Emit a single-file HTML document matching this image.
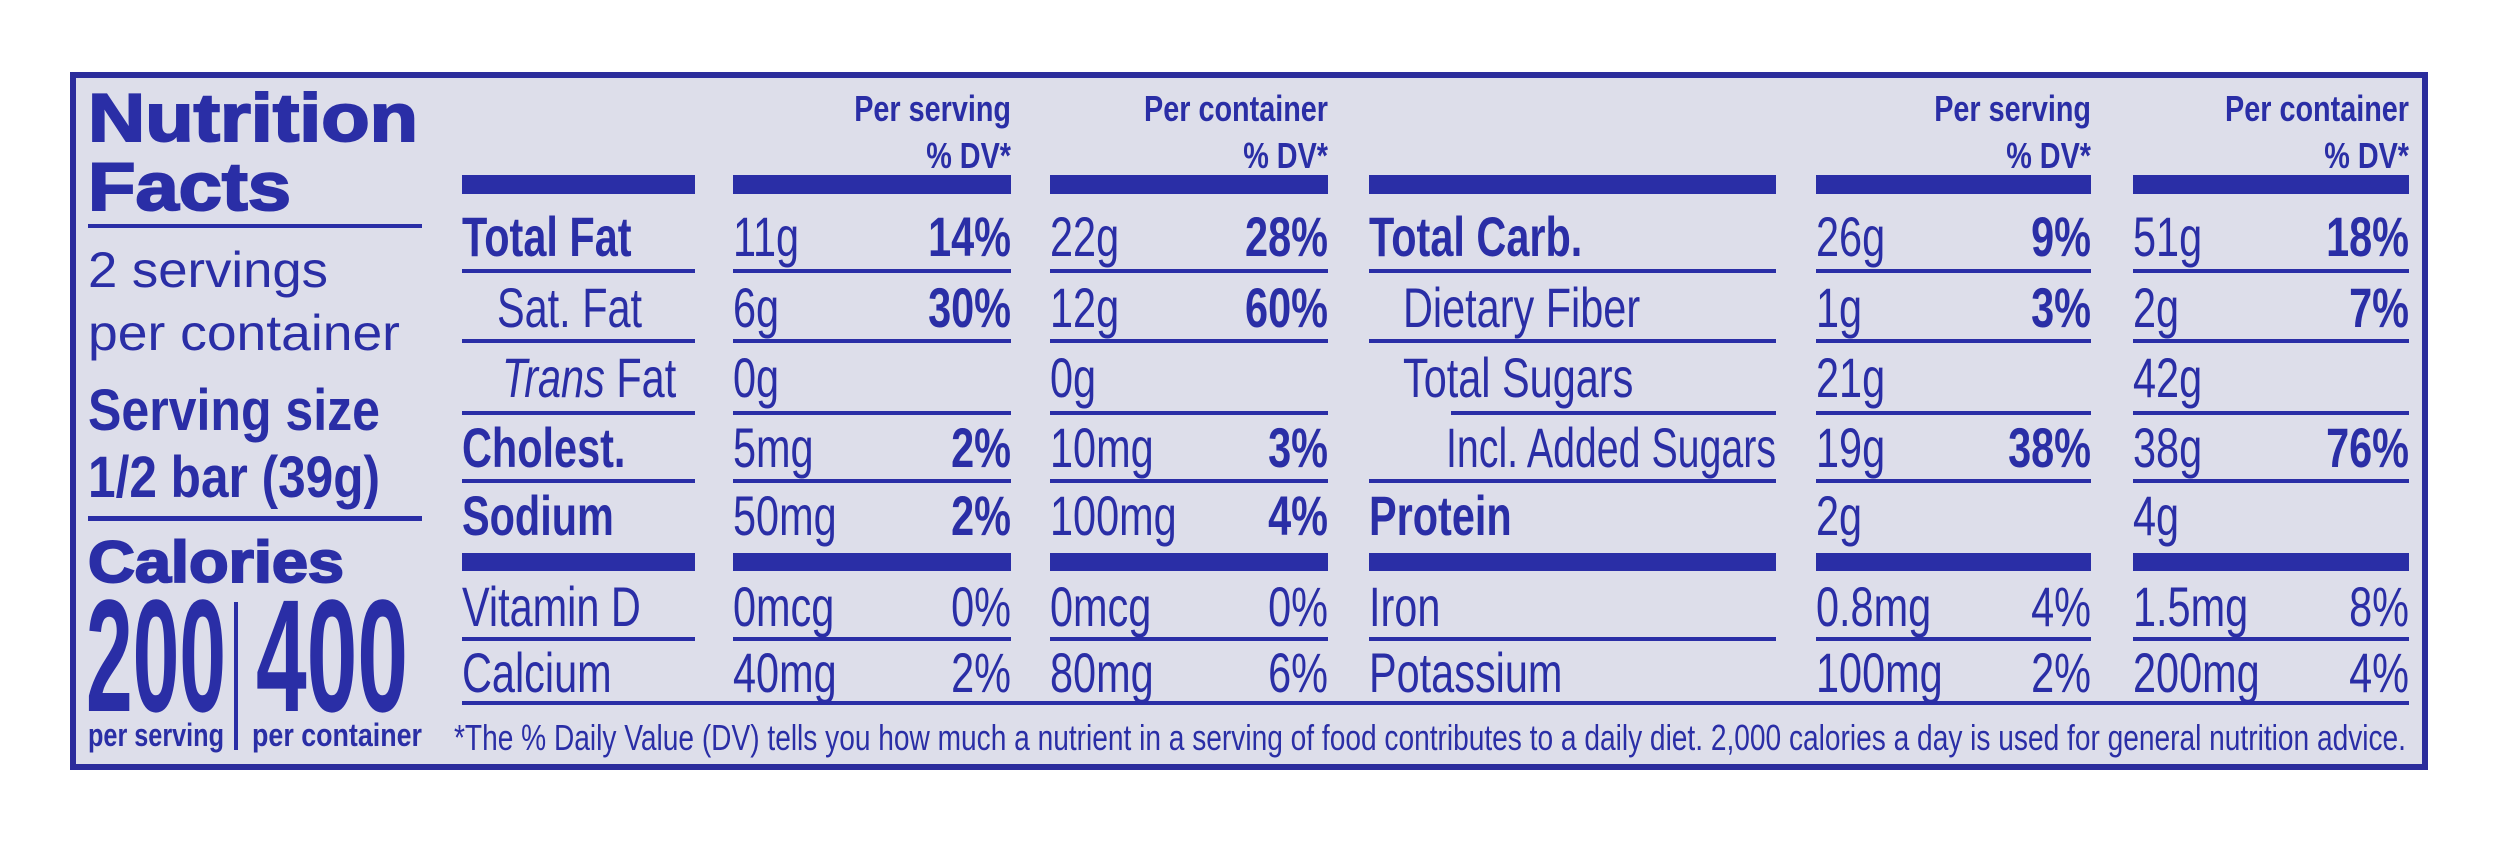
<!DOCTYPE html>
<html><head><meta charset="utf-8"><style>
html,body{margin:0;padding:0;background:#fff;}
svg{display:block;}
text{fill:#2a2ea6;font-family:"Liberation Sans Narrow","Liberation Sans",sans-serif;}
.b{font-weight:bold;}
.w{font-family:"Liberation Sans",sans-serif;}
.r{font-size:56px;}
.h{font-size:36px;font-weight:bold;}
.t{stroke:#2a2ea6;stroke-width:2;}
</style></head><body>
<svg width="2500" height="844" viewBox="0 0 2500 844">
<rect x="0" y="0" width="2500" height="844" fill="#fff"/>
<rect x="73" y="75" width="2352" height="692" fill="#dddeea" stroke="#2b2c9c" stroke-width="6"/>
<g fill="#2a2ea6">
<text x="88" y="141" class="w b t" font-size="68" textLength="330" lengthAdjust="spacingAndGlyphs">Nutrition</text>
<text x="88" y="210" class="w b t" font-size="68" textLength="203" lengthAdjust="spacingAndGlyphs">Facts</text>
<rect x="88" y="224" width="334" height="4"/>
<text x="88" y="287" class="w" font-size="50" textLength="240" lengthAdjust="spacingAndGlyphs">2 servings</text>
<text x="88" y="350" class="w" font-size="50" textLength="312" lengthAdjust="spacingAndGlyphs">per container</text>
<text x="88" y="430" class="b" font-size="58" textLength="292" lengthAdjust="spacingAndGlyphs">Serving size</text>
<text x="88" y="497" class="b" font-size="58" textLength="292" lengthAdjust="spacingAndGlyphs">1/2 bar (39g)</text>
<rect x="88" y="516" width="334" height="5"/>
<text x="88" y="582" class="w b t" font-size="58" textLength="256" lengthAdjust="spacingAndGlyphs">Calories</text>
<text x="86" y="711" class="b" font-size="160" textLength="140" lengthAdjust="spacingAndGlyphs">200</text>
<rect x="234" y="602" width="4" height="148"/>
<text x="256" y="711" class="b" font-size="160" textLength="152" lengthAdjust="spacingAndGlyphs">400</text>
<text x="88" y="746" class="b" font-size="32" textLength="136" lengthAdjust="spacingAndGlyphs">per serving</text>
<text x="252" y="746" class="b" font-size="32" textLength="170" lengthAdjust="spacingAndGlyphs">per container</text>

<text x="1011" y="121" text-anchor="end" class="h c2">Per serving</text>
<text x="1011" y="168" text-anchor="end" class="h c2">% DV*</text>
<text x="1328" y="121" text-anchor="end" class="h c2">Per container</text>
<text x="1328" y="168" text-anchor="end" class="h c2">% DV*</text>
<text x="2091" y="121" text-anchor="end" class="h c2">Per serving</text>
<text x="2091" y="168" text-anchor="end" class="h c2">% DV*</text>
<text x="2409" y="121" text-anchor="end" class="h c2">Per container</text>
<text x="2409" y="168" text-anchor="end" class="h c2">% DV*</text>

<g>
<rect x="462" y="175" width="233" height="19"/><rect x="733" y="175" width="278" height="19"/><rect x="1050" y="175" width="278" height="19"/>
<rect x="1369" y="175" width="407" height="19"/><rect x="1816" y="175" width="275" height="19"/><rect x="2133" y="175" width="276" height="19"/>
</g>
<g>
<rect x="462" y="553" width="233" height="18"/><rect x="733" y="553" width="278" height="18"/><rect x="1050" y="553" width="278" height="18"/>
<rect x="1369" y="553" width="407" height="18"/><rect x="1816" y="553" width="275" height="18"/><rect x="2133" y="553" width="276" height="18"/>
</g>
<g>
<rect x="462" y="269" width="233" height="4"/><rect x="733" y="269" width="278" height="4"/><rect x="1050" y="269" width="278" height="4"/>
<rect x="1369" y="269" width="407" height="4"/><rect x="1816" y="269" width="275" height="4"/><rect x="2133" y="269" width="276" height="4"/>
<rect x="462" y="339" width="233" height="4"/><rect x="733" y="339" width="278" height="4"/><rect x="1050" y="339" width="278" height="4"/>
<rect x="1369" y="339" width="407" height="4"/><rect x="1816" y="339" width="275" height="4"/><rect x="2133" y="339" width="276" height="4"/>
<rect x="462" y="411" width="233" height="4"/><rect x="733" y="411" width="278" height="4"/><rect x="1050" y="411" width="278" height="4"/>
<rect x="1451" y="411" width="325" height="4"/><rect x="1816" y="411" width="275" height="4"/><rect x="2133" y="411" width="276" height="4"/>
<rect x="462" y="479" width="233" height="4"/><rect x="733" y="479" width="278" height="4"/><rect x="1050" y="479" width="278" height="4"/>
<rect x="1369" y="479" width="407" height="4"/><rect x="1816" y="479" width="275" height="4"/><rect x="2133" y="479" width="276" height="4"/>
<rect x="462" y="637" width="233" height="4"/><rect x="733" y="637" width="278" height="4"/><rect x="1050" y="637" width="278" height="4"/>
<rect x="1369" y="637" width="407" height="4"/><rect x="1816" y="637" width="275" height="4"/><rect x="2133" y="637" width="276" height="4"/>
<rect x="462" y="701" width="1947" height="4"/>
</g>
</g>

<g>
<text x="462" y="256" class="r b">Total Fat</text>
<text x="733" y="256" class="r">11g</text>
<text x="1011" y="256" class="r b" text-anchor="end">14%</text>
<text x="1050" y="256" class="r">22g</text>
<text x="1328" y="256" class="r b" text-anchor="end">28%</text>

<text x="497" y="327" class="r">Sat. Fat</text>
<text x="733" y="327" class="r">6g</text>
<text x="1011" y="327" class="r b" text-anchor="end">30%</text>
<text x="1050" y="327" class="r">12g</text>
<text x="1328" y="327" class="r b" text-anchor="end">60%</text>

<text x="502" y="397" class="r"><tspan font-style="italic">Trans</tspan> Fat</text>
<text x="733" y="397" class="r">0g</text>
<text x="1050" y="397" class="r">0g</text>

<text x="462" y="467" class="r b">Cholest.</text>
<text x="733" y="467" class="r">5mg</text>
<text x="1011" y="467" class="r b" text-anchor="end">2%</text>
<text x="1050" y="467" class="r">10mg</text>
<text x="1328" y="467" class="r b" text-anchor="end">3%</text>

<text x="462" y="535" class="r b">Sodium</text>
<text x="733" y="535" class="r">50mg</text>
<text x="1011" y="535" class="r b" text-anchor="end">2%</text>
<text x="1050" y="535" class="r">100mg</text>
<text x="1328" y="535" class="r b" text-anchor="end">4%</text>

<text x="462" y="626" class="r">Vitamin D</text>
<text x="733" y="626" class="r">0mcg</text>
<text x="1011" y="626" class="r" text-anchor="end">0%</text>
<text x="1050" y="626" class="r">0mcg</text>
<text x="1328" y="626" class="r" text-anchor="end">0%</text>

<text x="462" y="692" class="r">Calcium</text>
<text x="733" y="692" class="r">40mg</text>
<text x="1011" y="692" class="r" text-anchor="end">2%</text>
<text x="1050" y="692" class="r">80mg</text>
<text x="1328" y="692" class="r" text-anchor="end">6%</text>

<text x="1369" y="256" class="r b">Total Carb.</text>
<text x="1816" y="256" class="r">26g</text>
<text x="2091" y="256" class="r b" text-anchor="end">9%</text>
<text x="2133" y="256" class="r">51g</text>
<text x="2409" y="256" class="r b" text-anchor="end">18%</text>

<text x="1403" y="327" class="r">Dietary Fiber</text>
<text x="1816" y="327" class="r">1g</text>
<text x="2091" y="327" class="r b" text-anchor="end">3%</text>
<text x="2133" y="327" class="r">2g</text>
<text x="2409" y="327" class="r b" text-anchor="end">7%</text>

<text x="1403" y="397" class="r">Total Sugars</text>
<text x="1816" y="397" class="r">21g</text>
<text x="2133" y="397" class="r">42g</text>

<text x="1446" y="467" font-size="56" textLength="330" lengthAdjust="spacingAndGlyphs">Incl. Added Sugars</text>
<text x="1816" y="467" class="r">19g</text>
<text x="2091" y="467" class="r b" text-anchor="end">38%</text>
<text x="2133" y="467" class="r">38g</text>
<text x="2409" y="467" class="r b" text-anchor="end">76%</text>

<text x="1369" y="535" class="r b">Protein</text>
<text x="1816" y="535" class="r">2g</text>
<text x="2133" y="535" class="r">4g</text>

<text x="1369" y="626" class="r">Iron</text>
<text x="1816" y="626" class="r">0.8mg</text>
<text x="2091" y="626" class="r" text-anchor="end">4%</text>
<text x="2133" y="626" class="r">1.5mg</text>
<text x="2409" y="626" class="r" text-anchor="end">8%</text>

<text x="1369" y="692" class="r">Potassium</text>
<text x="1816" y="692" class="r">100mg</text>
<text x="2091" y="692" class="r" text-anchor="end">2%</text>
<text x="2133" y="692" class="r">200mg</text>
<text x="2409" y="692" class="r" text-anchor="end">4%</text>
</g>

<text x="454" y="750" font-size="36" textLength="1952" lengthAdjust="spacingAndGlyphs">*The % Daily Value (DV) tells you how much a nutrient in a serving of food contributes to a daily diet. 2,000 calories a day is used for general nutrition advice.</text>
</svg>
<script>
function condense(sel, k){
  document.querySelectorAll(sel).forEach(function(t){
    var x = parseFloat(t.getAttribute('x'));
    t.setAttribute('transform','translate('+x+',0) scale('+k+',1) translate('+(-x)+',0)');
  });
}
condense('text.r', 0.74);
condense('text.c2', 0.8);
</script>
</body></html>
